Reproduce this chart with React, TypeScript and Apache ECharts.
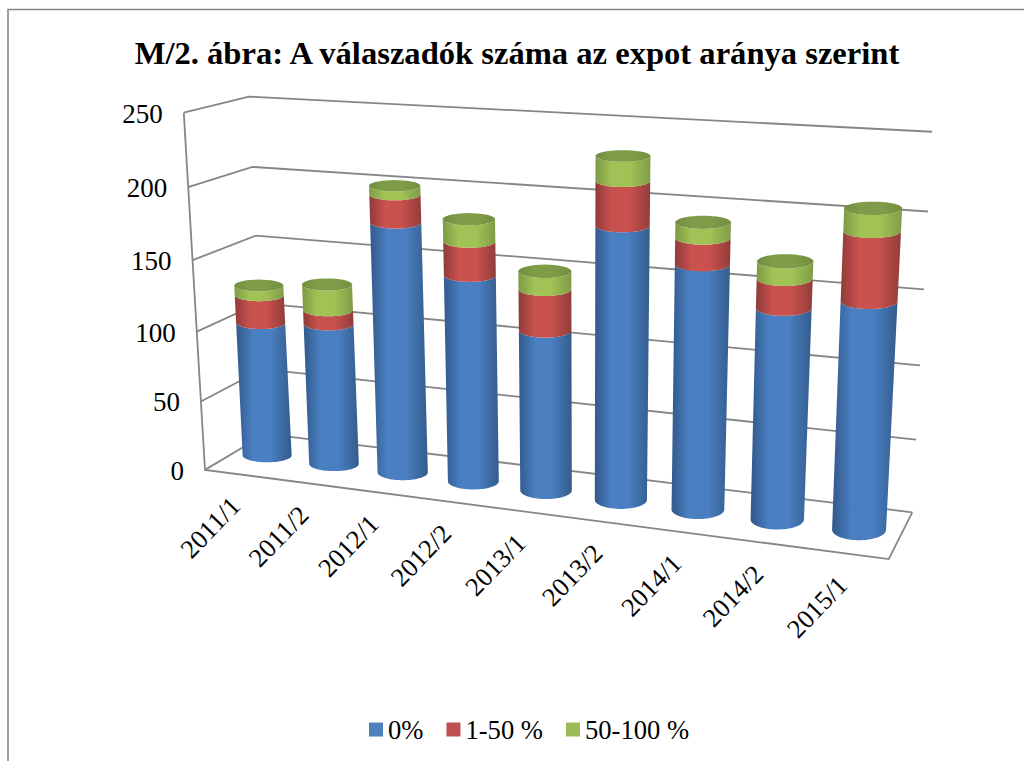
import React, { useEffect, useRef } from "react";
import * as echarts from "echarts";

const categories = ["2011/1", "2011/2", "2012/1", "2012/2", "2013/1", "2013/2", "2014/1", "2014/2", "2015/1"];
const zero = [98, 102, 177, 145, 112, 186, 165, 141, 150];
const low = [20, 10, 19, 23, 28, 29, 17, 19, 44];
const high = [7, 18, 6, 15, 12, 16, 10, 11, 14];
const yTicks = [0, 50, 100, 150, 200, 250];
const seriesNames = ["0%", "1-50 %", "50-100 %"];
const titleText = "M/2. ábra: A válaszadók száma az expot aránya szerint";

// Screen anchors of the 3D box: [u, v, w, x, y]
const calibration = [
  [0, 0, 0, 203, 470], [0, 0, 0.2, 201, 401], [0, 0, 0.4, 197, 331], [0, 0, 0.6, 193, 261], [0, 0, 0.8, 189, 187], [0, 0, 1, 184, 113],
  [0, 1, 0, 267, 434], [0, 1, 0.6, 256, 236], [0, 1, 0.8, 252, 167], [0, 1, 1, 248, 96],
  [1, 1, 0, 912, 512], [1, 1, 0.2, 916, 440], [1, 1, 0.4, 920, 365], [1, 1, 0.6, 924, 290], [1, 1, 0.8, 928, 212], [1, 1, 1, 932, 131],
  [1, 0, 0, 889, 559],
];

function solve(A: number[][], b: number[]) {
  const n = b.length;
  const M = A.map((r, i) => [...r, b[i]]);
  for (let c = 0; c < n; c++) {
    let p = c;
    for (let r = c + 1; r < n; r++) if (Math.abs(M[r][c]) > Math.abs(M[p][c])) p = r;
    [M[c], M[p]] = [M[p], M[c]];
    for (let r = 0; r < n; r++) {
      if (r === c) continue;
      const f = M[r][c] / M[c][c];
      for (let k = c; k <= n; k++) M[r][k] -= f * M[c][k];
    }
  }
  return M.map((r, i) => r[n] / r[i]);
}

function fitProjection() {
  const rows: number[][] = [];
  const rhs: number[] = [];
  for (const [u, v, w, x, y] of calibration) {
    rows.push([u, v, w, 1, 0, 0, 0, 0, -x * u, -x * v, -x * w]);
    rhs.push(x);
    rows.push([0, 0, 0, 0, u, v, w, 1, -y * u, -y * v, -y * w]);
    rhs.push(y);
  }
  const n = 11;
  const AtA = Array.from({ length: n }, (_, i) =>
    Array.from({ length: n }, (_, j) => rows.reduce((s, r) => s + r[i] * r[j], 0))
  );
  const Atb = Array.from({ length: n }, (_, i) => rows.reduce((s, r, k) => s + r[i] * rhs[k], 0));
  return solve(AtA, Atb);
}

const P = fitProjection();
function project(u: number, v: number, w: number) {
  const d = P[8] * u + P[9] * v + P[10] * w + 1;
  return [
    (P[0] * u + P[1] * v + P[2] * w + P[3]) / d,
    (P[4] * u + P[5] * v + P[6] * w + P[7]) / d,
  ];
}

// Flat grid that carries the ECharts scales; its pixels become (u, w) of the box.
const G = { left: 100, top: 100, width: 800, height: 400 };
function toBox(pt: number[]) {
  return [(pt[0] - G.left) / G.width, (G.top + G.height - pt[1]) / G.height];
}

function ring(u: number, w: number) {
  const c = project(u, 0.5, w);
  const du = u - 0.05;
  const rx = 24.5 + du * (2.8 + 2.7 * w);
  const ratio = 0.28 + 0.127 * du - w * (0.08 + 0.13 * du);
  return { cx: c[0] - 1.8 * (1 - u), cy: c[1], rx, ry: rx * ratio };
}
function arc(r: any, from: number, to: number) {
  const pts: number[][] = [];
  const N = 36;
  for (let i = 0; i <= N; i++) {
    const t = from + ((to - from) * i) / N;
    pts.push([r.cx + r.rx * Math.cos(t), r.cy + r.ry * Math.sin(t)]);
  }
  return pts;
}
function shade(edgeL: string, mid: string, edgeR: string) {
  return new echarts.graphic.LinearGradient(0, 0, 1, 0, [
    { offset: 0, color: edgeL },
    { offset: 0.3, color: mid },
    { offset: 0.62, color: mid },
    { offset: 1, color: edgeR },
  ]);
}
const sideShades = [
  ["#32598a", "#4a7fc2", "#335c8c"],
  ["#8f3b39", "#c9514e", "#923d3a"],
  ["#7d9a45", "#a1c356", "#7f9c46"],
];

function cylinderSeries(name: string, k: number, color: string, base: number[], top: number[]) {
  return {
    type: "custom",
    name,
    color,
    itemStyle: { color },
    clip: false,
    encode: { x: 0, y: [1, 2] },
    data: base.map((b, i) => [i, b, top[i]]),
    renderItem(_p: any, api: any) {
      const i = api.value(0);
      const p0 = toBox(api.coord([i, api.value(1)]));
      const p1 = toBox(api.coord([i, api.value(2)]));
      const r0 = ring(p0[0], p0[1]);
      const r1 = ring(p1[0], p1[1]);
      const [l, m, e] = sideShades[k];
      const side = [...arc(r0, 0, Math.PI), ...arc(r1, Math.PI, 0)];
      const children: any[] = [
        { type: "polygon", shape: { points: side }, style: { fill: shade(l, m, e) } },
      ];
      if (k === 2) {
        children.push({
          type: "polygon",
          shape: { points: arc(r1, 0, Math.PI * 2) },
          style: { fill: shade("#728c40", "#7f9d49", "#748f41") },
        });
      }
      return { type: "group", children };
    },
  };
}

const GRID_LINE = { stroke: "#868686", lineWidth: 1.8, fill: "none" };

function boxFloorSeries() {
  return {
    type: "custom",
    clip: false,
    silent: true,
    encode: { x: 0, y: 1 },
    data: yTicks.map((t) => [0, t]),
    z: 1,
    renderItem(_p: any, api: any) {
      const tick = api.value(1);
      const w = toBox(api.coord([0, tick]))[1];
      const fl = project(0, 0, w);
      const bl = project(0, 1, w);
      const br = project(1, 1, w);
      const children: any[] = [
        { type: "polyline", shape: { points: [fl, bl, br] }, style: GRID_LINE },
        {
          type: "text",
          style: {
            text: String(tick),
            x: fl[0] - 21,
            y: fl[1] + 1,
            align: "right",
            verticalAlign: "middle",
            font: "27px 'Liberation Serif'",
            fill: "#000",
          },
        },
      ];
      if (tick === 0) {
        const fr = project(1, 0, 0);
        const flTop = project(0, 0, 1);
        children.push({ type: "polyline", shape: { points: [br, fr, fl, flTop] }, style: GRID_LINE });
      }
      return { type: "group", children };
    },
  };
}

function categoryLabelSeries() {
  return {
    type: "custom",
    clip: false,
    silent: true,
    encode: { x: 0, y: 1 },
    data: categories.map((_c, i) => [i, 0]),
    z: 1,
    renderItem(_p: any, api: any) {
      const i = api.value(0);
      const b = toBox(api.coord([i, 0]));
      const a = project(b[0], 0, 0);
      return {
        type: "text",
        x: a[0] - 3,
        y: a[1] + 27,
        rotation: (46 * Math.PI) / 180,
        style: {
          text: categories[i],
          x: 0,
          y: 0,
          align: "right",
          verticalAlign: "middle",
          font: "26.5px 'Liberation Serif'",
          fill: "#000",
        },
      };
    },
  };
}

export default function App() {
  const ref = useRef<HTMLDivElement>(null);
  useEffect(() => {
    document.body.style.margin = "0";
    const chart = echarts.init(ref.current!, null, { renderer: "svg" });
    const t1 = zero.map((v, i) => v + low[i]);
    const t2 = t1.map((v, i) => v + high[i]);
    chart.setOption({
      animation: false,
      backgroundColor: "#fff",
      title: {
        text: titleText,
        left: 517,
        top: 36,
        padding: 0,
        textAlign: "center",
        textStyle: { fontFamily: "'Liberation Serif'", fontWeight: "bold", fontSize: 32.6, color: "#000" },
      },
      legend: {
        data: seriesNames,
        left: 369,
        top: 716,
        padding: 0,
        itemWidth: 14,
        itemHeight: 14,
        itemGap: 23,
        icon: "rect",
        selectedMode: false,
        textStyle: { fontFamily: "'Liberation Serif'", fontSize: 26.6, color: "#000" },
      },
      grid: { ...G },
      xAxis: { type: "category", data: categories, show: false },
      yAxis: { type: "value", min: 0, max: 250, interval: 50, show: false },
      graphic: [
        {
          type: "polyline",
          shape: { points: [[8, 761], [8, 9.5], [1024, 9.5]] },
          style: { stroke: "#868686", lineWidth: 1.6, fill: "none" },
          silent: true,
        },
      ],
      series: [
        boxFloorSeries(),
        categoryLabelSeries(),
        cylinderSeries(seriesNames[0], 0, "#4f81bd", zero.map(() => 0), zero),
        cylinderSeries(seriesNames[1], 1, "#c0504d", zero, t1),
        cylinderSeries(seriesNames[2], 2, "#9bbb59", t1, t2),
      ],
    });
    return () => chart.dispose();
  }, []);
  return <div ref={ref} style={{ width: 1024, height: 761 }} />;
}
